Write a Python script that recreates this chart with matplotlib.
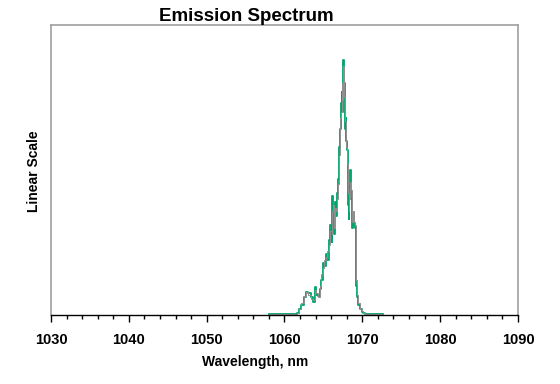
import matplotlib
matplotlib.use("Agg")
import matplotlib.pyplot as plt
from matplotlib.ticker import MultipleLocator

plt.rcParams['font.family'] = ['Liberation Sans', 'DejaVu Sans']

wavelength = [1058.0, 1061.4, 1061.7, 1062.0, 1062.3, 1062.6, 1062.9, 1063.2, 1063.5, 1063.8,
              1064.0, 1064.2, 1064.4, 1064.6, 1064.8, 1065.0, 1065.2, 1065.4, 1065.6, 1065.8,
              1066.0, 1066.1, 1066.2, 1066.3, 1066.4, 1066.5, 1066.6, 1066.7, 1066.8, 1066.9,
              1067.0, 1067.1, 1067.2, 1067.3, 1067.4, 1067.5, 1067.6, 1067.7, 1067.8, 1067.9,
              1068.0, 1068.1, 1068.2, 1068.3, 1068.4, 1068.5, 1068.6, 1068.7, 1068.8, 1068.9,
              1069.0, 1069.1, 1069.2, 1069.3, 1069.4, 1069.6, 1069.8, 1070.0, 1070.2, 1070.4,
              1070.7, 1072.7]

green = [0.002, 0.002, 0.006, 0.02, 0.035, 0.06, 0.08, 0.075, 0.06, 0.045,
         0.095, 0.07, 0.065, 0.09, 0.12, 0.18, 0.17, 0.21, 0.19, 0.26,
         0.31, 0.25, 0.41, 0.36, 0.28, 0.33, 0.39, 0.34, 0.42, 0.47,
         0.50, 0.58, 0.64, 0.73, 0.77, 0.70, 0.88, 0.80, 0.64, 0.68,
         0.60, 0.57, 0.38, 0.33, 0.44, 0.50, 0.40, 0.30, 0.34, 0.35,
         0.31, 0.30, 0.29, 0.10, 0.06, 0.035, 0.02, 0.01, 0.005, 0.002,
         0.002, 0.002]

gray = [0.002, 0.002, 0.008, 0.022, 0.04, 0.065, 0.078, 0.07, 0.055, 0.05,
        0.085, 0.075, 0.06, 0.10, 0.14, 0.16, 0.19, 0.20, 0.22, 0.24,
        0.29, 0.28, 0.36, 0.38, 0.30, 0.35, 0.37, 0.36, 0.40, 0.45,
        0.52, 0.55, 0.68, 0.70, 0.80, 0.74, 0.86, 0.75, 0.67, 0.65,
        0.58, 0.52, 0.42, 0.36, 0.40, 0.46, 0.43, 0.32, 0.33, 0.36,
        0.32, 0.31, 0.28, 0.12, 0.07, 0.04, 0.022, 0.012, 0.006, 0.002,
        0.002, 0.002]

x_ticks = [1030, 1040, 1050, 1060, 1070, 1080, 1090]

fig = plt.figure(figsize=(5.6, 3.84), dpi=100)
ax = fig.add_axes([0.091, 0.180, 0.834, 0.755])

ax.step(wavelength, green, where='mid', color='#00a368', lw=1.3)
ax.step(wavelength, gray, where='mid', color='#909090', lw=0.7)

ax.set_xlim(1030, 1090)
ax.set_ylim(0, 1.0)
ax.set_xticks(x_ticks)
ax.set_xticklabels([str(t) for t in x_ticks], fontsize=10.5, fontweight='bold')
ax.xaxis.set_minor_locator(MultipleLocator(2))
ax.tick_params(axis='x', which='major', direction='out', length=5, width=1, pad=8)
ax.tick_params(axis='x', which='minor', direction='out', length=3, width=1)
ax.set_yticks([])

for s in ['top', 'right', 'left']:
    ax.spines[s].set_color('#a0a0a0')
    ax.spines[s].set_linewidth(1.2)
ax.spines['bottom'].set_color('black')
ax.spines['bottom'].set_linewidth(1.0)

fig.text(0.455, 0.057, 'Wavelength, nm', fontsize=10, fontweight='bold',
         ha='center', va='center')
fig.text(0.060, 0.553, 'Linear Scale', rotation=90, fontsize=10, fontweight='bold',
         ha='center', va='center')
fig.text(0.44, 0.957, 'Emission Spectrum', fontsize=13.5, fontweight='bold',
         ha='center', va='center')

fig.savefig('out.png', dpi=100)
